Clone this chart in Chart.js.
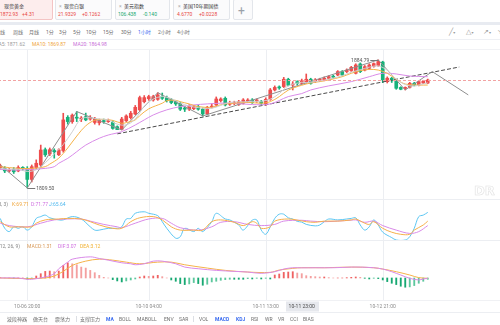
<!DOCTYPE html>
<html>
<head>
<meta charset="utf-8">
<script src="https://cdn.jsdelivr.net/npm/chart.js@4.4.1/dist/chart.umd.min.js"></script>
<style>
  html, body { margin: 0; padding: 0; background: #fff; }
  body { width: 500px; height: 325px; overflow: hidden; position: relative;
         font-family: Roboto, "Noto Sans CJK SC", sans-serif; }
  .t { position: absolute; font-size: 5px; line-height: 6px; white-space: nowrap; color: #6f6f6f; }
  .tab { position: absolute; top: -3px; height: 23px; box-sizing: border-box;
         border: 1px solid #e3e6eb; border-radius: 2px; background: #fbfbfc; }
  .tab.on { background: #fdeded; border-color: #f4c4c4; }
  .hl { position: absolute; left: 0; width: 500px; height: 1px; background: #eceef2; }
  .pane { position: absolute; left: -2px; width: 504px; }
  .red { color: #e8473f; } .grn { color: #17a86f; }
  .blue { color: #3a6cf0; font-weight: bold; }
  .ico { position: absolute; font-size: 7px; line-height: 8px; color: #9a9a9a; font-family: "DejaVu Sans", sans-serif; }
  .sep { position: absolute; width: 1px; height: 6px; background: #dcdfe4; top: 316px; }
</style>
</head>
<body>

<!-- quote tabs -->
<div class="tab on" style="left:-14px;width:67px;"></div>
<div class="tab" style="left:55px;width:57px;"></div>
<div class="tab" style="left:115px;width:55px;"></div>
<div class="tab" style="left:173px;width:57px;"></div>
<div class="tab" style="left:233px;width:20px;top:-1px;height:21px;"></div>
<div class="t" style="left:238px;top:5px;font-size:12px;line-height:12px;color:#9aa0a8;">+</div>

<div class="t" style="left:-3px;top:3px;color:#aaa;">×</div><div class="t" style="left:4px;top:3px;color:#333;">现货黄金</div>
<div class="t red" style="left:0px;top:10.5px;">1872.93</div><div class="t red" style="left:22px;top:10.5px;">+4.31</div>

<div class="t" style="left:59px;top:3px;color:#aaa;">×</div><div class="t" style="left:64px;top:3px;color:#333;">现货白银</div>
<div class="t red" style="left:58px;top:10.5px;">21.9329</div><div class="t red" style="left:82px;top:10.5px;">+0.1262</div>

<div class="t" style="left:119px;top:3px;color:#aaa;">×</div><div class="t" style="left:124px;top:3px;color:#333;">美元指数</div>
<div class="t grn" style="left:118px;top:10.5px;">106.438</div><div class="t grn" style="left:143px;top:10.5px;">-0.140</div>

<div class="t" style="left:178px;top:3px;color:#aaa;">×</div><div class="t" style="left:183px;top:3px;color:#333;">美国10年期国债</div>
<div class="t red" style="left:177px;top:10.5px;">4.6770</div><div class="t red" style="left:199px;top:10.5px;">+0.0228</div>

<div style="position:absolute;left:0;top:22px;width:500px;height:2.5px;background:#e8ebf1;"></div>

<!-- period selector -->
<div class="t" style="left:-5px;top:29px;">日线</div>
<div class="t" style="left:13px;top:29px;">周线</div>
<div class="t" style="left:29px;top:29px;">月线</div>
<div class="t" style="left:46px;top:29px;">1分</div>
<div class="t" style="left:59px;top:29px;">3分</div>
<div class="t" style="left:73px;top:29px;">5分</div>
<div class="t" style="left:86px;top:29px;">10分</div>
<div class="t" style="left:103px;top:29px;">15分</div>
<div class="t" style="left:121px;top:29px;">30分</div>
<div class="t" style="left:138px;top:29px;color:#3a6cf0;">1小时</div>
<div class="t" style="left:158px;top:29px;">2小时</div>
<div class="t" style="left:177px;top:29px;">4小时</div>
<div class="ico" style="left:449px;top:28px;">╱<span style="font-size:4px;">▾</span></div>
<div class="ico" style="left:466px;top:28px;">△<span style="font-size:4px;">▾</span></div>
<div class="ico" style="left:483px;top:28px;">↗<span style="font-size:4px;">▾</span></div>
<div class="ico" style="left:497px;top:28px;">↘</div>
<div class="hl" style="top:39px;background:#eef0f4;"></div>

<!-- moving average readout -->
<div class="t" style="left:-6px;top:40.5px;color:#9a9a9a;">MA5: 1871.62</div>
<div class="t" style="left:32px;top:40.5px;color:#f0a53a;">MA10: 1869.87</div>
<div class="t" style="left:73px;top:40.5px;color:#c96fd8;">MA20: 1864.98</div>
<div class="hl" style="top:49px;background:#f1f2f5;"></div>

<div class="pane" style="top:50px;height:150px;"><canvas id="main" width="504" height="150"></canvas></div>
<div class="t" style="left:474px;top:184px;font-size:13px;line-height:13px;font-weight:bold;color:transparent;-webkit-text-stroke:0.6px #e2e2e2;font-family:'DejaVu Sans',sans-serif;">DR</div>

<div class="hl" style="top:199px;"></div>
<div class="pane" style="top:200px;height:41px;"><canvas id="kdj" width="504" height="41"></canvas></div>
<div class="t" style="right:492px;top:201px;color:#888;">KDJ(9, 3, 3)</div>
<div class="t" style="left:12px;top:201px;color:#f0a53a;">K:69.71</div>
<div class="t" style="left:31px;top:201px;color:#d070e0;">D:71.77</div>
<div class="t" style="left:49px;top:201px;color:#4fb8ee;">J:65.64</div>

<div class="hl" style="top:240px;"></div>
<div class="pane" style="top:241px;height:72px;"><canvas id="macd" width="504" height="72"></canvas></div>
<div class="t" style="right:480px;top:243px;color:#888;">MACD(12, 26, 9)</div>
<div class="t" style="left:27px;top:243px;color:#d89a5a;">MACD:1.31</div>
<div class="t" style="left:58px;top:243px;color:#d070e0;">DIF:3.07</div>
<div class="t" style="left:80px;top:243px;color:#f0b030;">DEA:3.12</div>
<div class="hl" style="top:300px;background:#f0f1f4;"></div>
<div class="hl" style="top:312px;"></div>

<!-- indicator toolbar -->
<div class="t" style="left:7px;top:315.5px;">波段神器</div>
<div class="t" style="left:33px;top:315.5px;">傲天台</div>
<div class="t" style="left:55px;top:315.5px;">震荡力</div>
<div class="sep" style="left:76px;"></div>
<div class="t" style="left:80px;top:315.5px;">支撑压力</div>
<div class="t blue" style="left:106px;top:315.5px;">MA</div>
<div class="t" style="left:119px;top:315.5px;">BOLL</div>
<div class="t" style="left:137px;top:315.5px;">MABOLL</div>
<div class="t" style="left:164px;top:315.5px;">ENV</div>
<div class="t" style="left:179px;top:315.5px;">SAR</div>
<div class="sep" style="left:193px;"></div>
<div class="t" style="left:199px;top:315.5px;">VOL</div>
<div class="t blue" style="left:215px;top:315.5px;">MACD</div>
<div class="t blue" style="left:236px;top:315.5px;">KDJ</div>
<div class="t" style="left:251px;top:315.5px;">RSI</div>
<div class="t" style="left:265px;top:315.5px;">WR</div>
<div class="t" style="left:278px;top:315.5px;">VR</div>
<div class="t" style="left:290px;top:315.5px;">CCI</div>
<div class="t" style="left:303px;top:315.5px;">BIAS</div>

<script>
// ---- hourly candles, XAUUSD ----
const opens  = [1821.5,1821.0,1819.5,1820.5,1819.5,1821.5,1821.0,1814.5,1821.5,1823.0,
                1832.0,1829.5,1831.5,1829.0,1831.5,1851.0,1848.5,1851.0,1850.0,1851.4,
                1850.0,1848.0,1847.8,1849.0,1848.5,1848.0,1845.5,1844.0,1849.0,1850.8,
                1853.0,1855.4,1860.2,1862.0,1861.2,1861.6,1863.2,1862.6,1861.6,1860.2,
                1859.3,1856.5,1855.8,1856.1,1857.3,1855.8,1853.0,1857.0,1858.3,1860.8,
                1862.2,1858.7,1859.0,1858.7,1859.3,1860.2,1861.2,1860.6,1860.2,1858.9,
                1861.6,1867.1,1868.6,1869.1,1873.4,1870.0,1872.0,1871.0,1871.8,1873.4,
                1872.0,1872.8,1873.0,1873.9,1875.0,1875.9,1877.9,1877.9,1878.5,1876.9,
                1882.4,1878.8,1879.8,1881.0,1881.5,1883.5,1872.0,1874.0,1872.5,1868.6,
                1868.0,1868.7,1871.0,1870.0,1871.2,1871.2];
const highs  = [1823.5,1822.0,1821.0,1821.5,1822.5,1822.0,1822.0,1823.0,1826.0,1834.7,
                1833.0,1833.0,1832.5,1832.5,1853.4,1852.0,1853.0,1854.4,1851.5,1853.5,
                1852.0,1851.0,1850.0,1850.0,1850.0,1849.0,1846.0,1851.0,1852.5,1854.5,
                1858.0,1863.5,1863.8,1864.0,1864.0,1865.5,1865.3,1863.5,1862.2,1860.8,
                1860.0,1857.5,1858.5,1858.0,1858.0,1856.5,1857.5,1859.0,1863.0,1862.5,
                1863.0,1860.5,1860.5,1861.0,1862.0,1862.0,1862.0,1861.8,1861.0,1862.5,
                1868.0,1869.5,1869.5,1874.5,1874.0,1872.0,1872.5,1873.5,1876.5,1874.0,
                1873.8,1874.0,1874.8,1875.5,1875.8,1878.5,1878.5,1879.5,1881.0,1882.5,
                1883.0,1881.5,1882.5,1883.0,1884.79,1884.0,1874.8,1874.5,1873.0,1869.0,
                1868.9,1871.6,1871.6,1872.6,1872.8,1873.5];
const lows   = [1820.5,1818.5,1818.8,1818.0,1819.0,1819.8,1809.5,1813.0,1820.5,1822.0,
                1828.0,1828.5,1827.0,1828.5,1830.5,1847.0,1847.5,1848.5,1848.5,1849.0,
                1849.3,1847.0,1846.5,1847.5,1848.0,1844.0,1843.8,1843.6,1848.5,1850.0,
                1852.5,1855.0,1859.5,1861.0,1860.5,1861.0,1861.5,1860.0,1859.0,1858.0,
                1855.0,1854.4,1855.0,1855.5,1855.2,1851.8,1852.5,1856.5,1857.5,1860.0,
                1857.7,1858.0,1858.5,1858.0,1858.8,1859.8,1859.2,1859.8,1858.5,1858.0,
                1861.0,1866.5,1867.5,1868.5,1869.5,1867.1,1870.0,1870.5,1871.0,1870.5,
                1871.5,1872.0,1872.5,1873.5,1874.0,1875.5,1875.3,1877.3,1878.0,1876.5,
                1877.3,1878.3,1879.3,1880.5,1881.0,1871.4,1871.2,1871.5,1867.5,1867.2,
                1867.1,1868.2,1869.5,1869.5,1870.8,1870.8];
const closes = [1822.5,1819.5,1820.0,1819.0,1821.5,1821.0,1814.5,1822.0,1824.0,1831.8,
                1829.0,1832.0,1830.8,1831.8,1849.5,1848.5,1852.3,1850.5,1850.3,1849.5,
                1850.8,1850.0,1849.2,1848.5,1849.0,1844.5,1843.8,1850.0,1851.8,1853.4,
                1856.9,1862.6,1862.6,1863.2,1863.2,1864.2,1862.2,1860.8,1859.7,1858.9,
                1855.8,1855.8,1857.7,1857.3,1855.8,1853.0,1856.9,1857.5,1861.8,1861.8,
                1858.3,1859.3,1859.5,1860.2,1861.2,1861.2,1859.8,1860.8,1859.3,1861.6,
                1867.1,1868.6,1868.3,1873.4,1869.9,1870.4,1871.0,1872.4,1873.4,1871.0,
                1873.0,1873.2,1874.0,1874.9,1874.6,1877.9,1875.9,1878.8,1880.4,1881.8,
                1877.9,1880.8,1881.8,1882.6,1883.8,1873.0,1874.0,1872.5,1868.1,1867.5,
                1868.2,1871.0,1870.0,1872.0,1872.2,1872.93];

// ---- moving averages [candle index, price] ----
const ma5Pts  = [[0,1821],[2,1820.5],[4,1820.5],[6,1819.2],[8,1820.2],[10,1824.3],[12,1829.5],[14,1835],
                 [16,1842.5],[18,1850.2],[20,1850.7],[22,1850],[24,1849.5],[26,1847],[28,1846.6],[30,1850],
                 [32,1857.5],[34,1861.7],[36,1863.2],[38,1862],[40,1859.5],[42,1857.6],[44,1856.7],[46,1856.1],
                 [48,1857],[50,1859.1],[52,1860.1],[54,1860.1],[56,1860.4],[58,1860.5],[60,1861.7],[62,1865],
                 [64,1869.5],[67,1871.62],[68,1871.4],[70,1872],[72,1872.9],[74,1874.1],[76,1875.5],[78,1877.5],
                 [80,1879],[82,1880.5],[84,1881.2],[86,1878.7],[88,1873.5],[90,1870.3],[92,1869.4],[94,1870.7],[95,1871.3]];
const ma10Pts = [[0,1822.0],[4,1821.0],[7,1821.0],[10,1822.0],[11,1823.5],[13,1827],[15,1833],[17,1840],
                 [19,1846],[21,1849.3],[23,1849.8],[25,1849.2],[27,1847.5],[28,1847.9],[30,1849.5],[31,1852.0],
                 [33,1856.0],[36,1859.3],[37,1860.8],[39,1861.0],[40,1860.2],[42,1858.9],[44,1857.3],[47,1856.9],
                 [48,1857.7],[50,1858.9],[52,1859.3],[55,1859.8],[58,1859.3],[60,1860.2],[62,1863.2],[64,1867.0],
                 [67,1869.87],[69,1871.2],[71,1872.0],[73,1873.0],[76,1874.9],[78,1876.9],[80,1878.4],[82,1879.2],
                 [84,1878.8],[86,1876.9],[88,1873.4],[90,1870.6],[93,1870.0],[95,1870.0]];
const ma20Pts = [[0,1820.4],[4,1820.0],[7,1820.4],[10,1821.0],[12,1822.0],[13,1824.0],[15,1826.9],[17,1830.8],
                 [19,1834.7],[22,1838.7],[24,1840.6],[27,1842.6],[30,1846.5],[32,1849.5],[34,1852.4],[37,1855.4],
                 [40,1857.3],[43,1858.3],[46,1858.9],[49,1859.3],[52,1859.3],[56,1858.5],[60,1858.9],[64,1863.2],
                 [67,1864.98],[69,1867.1],[73,1869.5],[78,1872.0],[82,1874.9],[85,1876.9],[88,1876.5],[91,1875.3],[95,1874.9]];

// ---- drawn swing path and trend line ----
const swingPts = [[0,1823],[6,1809.5],[17,1854.4],[27,1843.6],[35,1865.5],[45,1851.8],[84,1884.79],[90,1867.1],[96,1877.9],[104,1864.2]];
const trendPts = [[26,1841.3],[102,1880.6]];

// ---- KDJ(9,3,3) ----
const kPts = [[0,67],[2,50],[4,50],[7,50],[8,62],[10,73],[13,76],[15,78],[18,76],[20,67],[22,56],[25,45],[27,45],
              [29,67],[31,80],[34,84],[36,73],[38,50],[40,39],[43,39],[45,39],[47,67],[49,73],[52,65],[54,54],[56,67],
              [57,62],[58,45],[60,50],[61,69],[64,76],[67,69.71],[68,67],[70,65],[72,69],[75,69],[78,73],[79,76],[81,62],
              [82,58],[83,67],[85,45],[87,32],[89,25],[91,25],[92,39],[94,56],[95,69]];
const dPts = [[0,62],[2,54],[6,50],[9,62],[12,73],[15,76],[18,76],[20,69],[23,58],[26,50],[27,47],[30,62],[33,76],
              [36,78],[38,62],[40,47],[44,39],[47,50],[49,65],[52,67],[55,58],[58,54],[61,58],[63,69],[67,71.77],[69,69],
              [72,67],[75,69],[78,72],[79,73],[81,65],[83,69],[85,54],[88,39],[91,28],[93,34],[95,54]];
const jPts = [[0,78],[1,45],[2,34],[3,50],[4,45],[5,50],[6,39],[7,50],[8,78],[9,84],[10,89],[11,80],[13,73],[14,73],
              [16,84],[18,76],[20,50],[21,39],[22,39],[24,45],[26,45],[27,50],[28,76],[29,78],[30,95],[32,100],[33,95],
              [35,87],[36,67],[37,45],[39,12],[40,17],[41,45],[43,34],[44,45],[45,34],[47,67],[48,95],[50,76],[51,73],
              [53,56],[54,39],[56,72],[57,73],[58,39],[59,25],[60,50],[61,78],[62,92],[63,92],[64,80],[65,76],[66,68],
              [67,65.64],[68,58],[70,53],[71,56],[72,67],[73,76],[75,73],[77,76],[78,78],[79,80],[80,56],[81,39],[82,50],
              [83,73],[84,56],[85,32],[87,14],[88,6],[90,6],[91,17],[92,45],[93,84],[94,89],[95,98]];

// ---- MACD(12,26,9) ----
const difPts = [[0,0],[4,0],[6,-0.4],[7,-0.4],[10,0.3],[12,1.3],[13,2.8],[15,4.8],[16,5.7],[20,6.4],[22,5.9],[24,5.4],
                [27,4.6],[29,4.3],[30,4.0],[32,4.3],[34,5.1],[36,5.1],[39,4.3],[41,3.3],[44,2.8],[48,2.3],[52,2.0],[55,1.8],
                [58,1.4],[61,1.9],[63,2.7],[65,3.1],[67,3.07],[70,3.1],[74,3.1],[78,3.3],[80,3.3],[83,3.1],[85,2.7],
                [87,1.9],[89,0.9],[91,-0.1],[93,-0.6],[94,-0.3],[95,-0.1]];
const deaPts = [[0,0],[6,-0.2],[10,0],[12,0.6],[14,2.0],[16,3.8],[19,5.1],[22,5.7],[25,5.4],[28,4.8],[31,4.3],[35,4.8],
                [38,4.8],[41,4.0],[46,3.0],[50,2.3],[55,1.8],[60,1.7],[62,2.4],[65,2.9],[67,3.12],[72,3.1],[78,3.3],
                [83,3.1],[85,2.7],[88,1.9],[91,0.9],[93,0.1],[95,-0.1]];
const macdHist = [0.1,0,0,-0.1,0,0,-0.3,-0.2,0.6,1.3, 2.0,2.1,1.9,2.1,3.8,4.6,4.3,4.0,3.3,3.0,
                  2.3,1.6,0.8,0.2,0,-0.5,-0.9,-1.2,-0.9,-0.6, -0.3,0.3,0.6,0.5,0.6,0.8,0.4,0,-0.6,-1.0,
                  -1.7,-2.0,-1.8,-1.4,-1.7,-2.2,-1.9,-1.2,-1.0,-0.7, -0.5,-0.4,-0.4,-0.4,-0.4,-0.2,-0.3,-0.1,-0.3,-0.1,
                  -0.3,0.9,1.2,1.7,1.8,1.9,1.5,1.31,0.7,0.5, 0.4,0.3,0.3,0.1,0,0,0,0.1,0.2,0.3,
                  0.2,-0.1,-0.3,-0.1,-0.2,-0.6,-1.1,-1.6,-2.0,-2.5, -2.8,-2.7,-2.3,-1.6,-1.0,-0.4];

// ---- time axis ----
const timeTickIndex = [6, 33, 59, 85];
const timeTickText  = ['10-06 20:00', '10-10 04:00', '10-11 13:00', '10-12 21:00'];
const cursorIndex = 67;
const cursorText  = '10-11 23:00';

// ---- rendering ----
const SLOTS = 112;                       // visible hourly slots, incl. empty room on the right
const slotLabels = Array.from({ length: SLOTS }, (_, i) => i);
const RED = '#ee4d4d', GREEN = '#17b27a';
const FONT = 'Roboto, "Noto Sans", sans-serif';

function spread(points) {
  const arr = new Array(SLOTS).fill(null);
  points.forEach(([i, v]) => { arr[i] = v; });
  return arr;
}
const isUp = i => closes[i] >= opens[i];

function lineSet(label, pts, color, extra) {
  return Object.assign({
    type: 'line', label, data: spread(pts), borderColor: color, borderWidth: 1,
    pointRadius: 0, spanGaps: true, tension: 0.35, fill: false, order: 1
  }, extra || {});
}

const timeGrid = {
  id: 'timeGrid',
  beforeDatasetsDraw(chart) {
    const { ctx, chartArea: a, scales: { x } } = chart;
    ctx.save();
    ctx.strokeStyle = '#eceef2';
    ctx.lineWidth = 1;
    timeTickIndex.forEach(i => {
      const px = Math.round(x.getPixelForValue(i)) + 0.5;
      ctx.beginPath(); ctx.moveTo(px, a.top); ctx.lineTo(px, a.bottom); ctx.stroke();
    });
    ctx.restore();
  }
};

const priceMarks = {
  id: 'priceMarks',
  afterDatasetsDraw(chart) {
    const { ctx, chartArea: a, scales: { x, y } } = chart;
    ctx.save();
    // last price
    const py = Math.round(y.getPixelForValue(closes[closes.length - 1])) + 0.5;
    ctx.strokeStyle = '#f2a3a3'; ctx.lineWidth = 1; ctx.setLineDash([3, 2]);
    ctx.beginPath(); ctx.moveTo(a.left, py); ctx.lineTo(a.right, py); ctx.stroke();
    ctx.setLineDash([]);
    // session high / low
    const hiVal = Math.max(...highs), loVal = Math.min(...lows);
    const hiIdx = highs.indexOf(hiVal), loIdx = lows.indexOf(loVal);
    ctx.font = '5px ' + FONT; ctx.textBaseline = 'middle';
    ctx.strokeStyle = '#777'; ctx.fillStyle = '#555';
    const hx = x.getPixelForValue(hiIdx), hy = Math.round(y.getPixelForValue(hiVal)) + 0.5;
    ctx.beginPath(); ctx.moveTo(hx, hy); ctx.lineTo(hx - 8, hy); ctx.stroke();
    ctx.textAlign = 'right'; ctx.fillText(hiVal.toFixed(2), hx - 9, hy);
    const lx = x.getPixelForValue(loIdx), ly = Math.round(y.getPixelForValue(loVal)) + 0.5;
    ctx.beginPath(); ctx.moveTo(lx, ly); ctx.lineTo(lx + 8, ly); ctx.stroke();
    ctx.textAlign = 'left'; ctx.fillText(loVal.toFixed(2), lx + 9, ly);
    ctx.restore();
  }
};

const timeAxis = {
  id: 'timeAxis',
  afterDraw(chart) {
    const { ctx, chartArea: a, scales: { x } } = chart;
    ctx.save();
    ctx.font = '5px ' + FONT; ctx.textAlign = 'center'; ctx.textBaseline = 'middle';
    const ly = a.bottom + 6.5;
    ctx.fillStyle = '#8c8c8c';
    timeTickIndex.forEach((i, k) => ctx.fillText(timeTickText[k], x.getPixelForValue(i), ly));
    const cx = x.getPixelForValue(cursorIndex);
    ctx.fillStyle = '#e6e8ed';
    ctx.fillRect(Math.round(cx - 16), a.bottom + 1.5, 33, 10);
    ctx.fillStyle = '#4a4a4a';
    ctx.fillText(cursorText, cx, ly);
    ctx.restore();
  }
};

const baseOptions = (ymin, ymax, pad) => ({
  animation: false, responsive: false, maintainAspectRatio: false, events: [],
  layout: { padding: { left: 0, right: 0, top: 0, bottom: pad || 0 } },
  plugins: { legend: { display: false }, tooltip: { enabled: false } },
  scales: {
    x: { type: 'category', offset: true, display: false },
    y: { display: false, min: ymin, max: ymax }
  }
});

// price pane
new Chart(document.getElementById('main'), {
  type: 'bar',
  data: {
    labels: slotLabels,
    datasets: [
      lineSet('MA5', ma5Pts, '#cfcfcf'),
      lineSet('MA10', ma10Pts, '#f5b349'),
      lineSet('MA20', ma20Pts, '#d98be8'),
      lineSet('swing', swingPts, '#8f8f8f', { tension: 0 }),
      lineSet('trend', trendPts, '#4a4a4a', { tension: 0, borderDash: [4, 2] }),
      { label: 'wick', data: lows.map((l, i) => [l, highs[i]]),
        backgroundColor: c => isUp(c.dataIndex) ? RED : GREEN,
        barThickness: 1, grouped: false, order: 3 },
      { label: 'body', data: opens.map((o, i) => [o, closes[i]]),
        backgroundColor: c => isUp(c.dataIndex) ? RED : GREEN,
        barThickness: 3, minBarLength: 1, grouped: false, order: 2 }
    ]
  },
  options: baseOptions(1802.4, 1890.6),
  plugins: [timeGrid, priceMarks]
});

// KDJ pane
new Chart(document.getElementById('kdj'), {
  type: 'line',
  data: {
    labels: slotLabels,
    datasets: [
      lineSet('K', kPts, '#f6b04a'),
      lineSet('D', dPts, '#d98ae8'),
      lineSet('J', jPts, '#5cc6f2')
    ]
  },
  options: baseOptions(2.7, 139.3),
  plugins: [timeGrid]
});

// MACD pane
new Chart(document.getElementById('macd'), {
  type: 'bar',
  data: {
    labels: slotLabels,
    datasets: [
      lineSet('DIF', difPts, '#d98ae8'),
      lineSet('DEA', deaPts, '#f5b349'),
      { label: 'MACD', data: macdHist,
        backgroundColor: c => {
          const i = c.dataIndex, v = macdHist[i], prev = i > 0 ? macdHist[i - 1] : 0;
          if (v >= 0) return v >= prev ? '#ef6262' : '#f4a0a0';
          return v <= prev ? '#17a872' : '#5cc79d';
        },
        barThickness: 1.2, grouped: false, order: 2 }
    ]
  },
  options: baseOptions(-6.67, 11.2, 13),
  plugins: [timeGrid, timeAxis]
});
</script>
</body>
</html>
